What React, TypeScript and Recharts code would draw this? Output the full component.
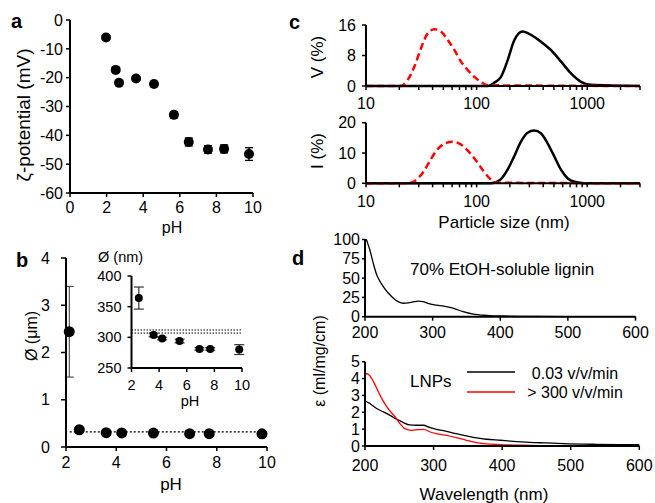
import React from 'react';
import {
  ScatterChart,
  Scatter,
  LineChart,
  Line,
  XAxis,
  YAxis,
  ErrorBar,
  ReferenceLine,
} from 'recharts';

const W = 655;
const H = 503;
const FONT = '"Liberation Sans", Arial, Helvetica, sans-serif';

// a: zeta potential vs pH
const zetaPH = [1.97, 2.5, 2.68, 3.61, 4.59, 5.68, 6.49, 7.54, 8.42, 9.78];
const zetaMV = [-6.1, -17.3, -21.8, -20.3, -22.2, -32.9, -42.3, -44.9, -44.7, -46.5];
const zetaErr = [0.6, 0.8, 0.8, 0.8, 0.9, 1.0, 1.4, 1.3, 1.4, 2.2];

// b: particle diameter (um) vs pH
const diaPH = [2.13, 2.53, 3.6, 4.22, 5.48, 6.92, 7.7, 9.8];
const diaUm = [2.44, 0.365, 0.304, 0.298, 0.294, 0.281, 0.281, 0.28];
const diaErr = [0.96, 0.01, 0.01, 0.01, 0.01, 0.01, 0.01, 0.01];
const diaRef = 0.32;

// b inset: diameter (nm)
const insetPH = [2.53, 3.6, 4.22, 5.48, 6.92, 7.7, 9.8];
const insetNm = [364, 304, 298, 294, 281, 281, 280];
const insetErr = [18, 3, 2, 3, 2, 2, 8];
const insetRefs = [312, 307];

// c: DLS size distributions
const volRedX = [10, 20.5, 23.8, 27.4, 31.4, 36.1, 41.5, 47.6, 54.8, 63, 72.3, 83, 95.3, 109, 126, 3000];
const volRedY = [0, 0, 1.6, 5.1, 9.9, 13.8, 14.9, 14.3, 12.1, 9.4, 6.4, 4.2, 2.4, 1.1, 0.2, 0];
const volBlackX = [10, 126, 145, 166, 191, 219, 261, 310, 382, 471, 580, 713, 879, 1081, 3000];
const volBlackY = [0, 0, 0.9, 2.4, 6.8, 12.0, 14.3, 13.4, 11.6, 9.4, 6.4, 3.3, 1.1, 0.3, 0];
const intRedX = [10, 24, 28.8, 33.1, 38.2, 43.8, 52.2, 60.1, 69.1, 82.2, 98, 116.7, 134, 154, 3000];
const intRedY = [0, 0, 1.3, 3.8, 7.7, 11, 13.2, 13.7, 13.2, 11, 7.7, 3.8, 1.3, 0.2, 0];
const intBlackX = [10, 134, 165, 190, 218, 251, 289, 332, 381, 438, 505, 581, 667, 767, 946, 3000];
const intBlackY = [0, 0, 1.3, 4.4, 8.8, 13.7, 16.7, 17.4, 16.5, 13.2, 8.8, 4.4, 1.6, 0.5, 0, 0];
const logTicks = [10, 20, 30, 40, 50, 60, 70, 80, 90, 100, 200, 300, 400, 500, 600, 700, 800, 900, 1000, 2000, 3000];
const logLabels = [10, 100, 1000];

// d: UV absorptivity
const ligninWl = [200, 201, 202.5, 204, 207, 212, 217, 222, 227, 234, 242, 249, 257, 266, 279, 286, 296, 306, 320, 330, 345, 360, 380, 400, 450, 500, 550, 600];
const ligninEps = [97, 100, 99, 95, 87, 70, 55, 46, 39, 31, 24, 19.6, 17.4, 18.3, 20.3, 19.5, 16.5, 15, 13, 11, 6.5, 3.4, 1.7, 0.9, 0.4, 0.2, 0.1, 0.05];
const slowWl = [200, 207, 217, 227, 236, 246, 256, 265, 275, 285, 295, 304, 319, 333, 348, 363, 377, 397, 416, 440, 465, 489, 537, 600];
const slowEps = [2.68, 2.52, 2.22, 2.02, 1.83, 1.59, 1.39, 1.25, 1.23, 1.23, 1.09, 0.99, 0.87, 0.73, 0.6, 0.48, 0.4, 0.34, 0.28, 0.22, 0.18, 0.14, 0.1, 0.08];
const fastWl = [200, 205, 210, 215, 222, 229, 236, 244, 251, 258, 268, 278, 286, 295, 304, 319, 333, 348, 363, 377, 397, 440, 489, 600];
const fastEps = [4.3, 4.25, 4.0, 3.6, 3.0, 2.5, 2.1, 1.73, 1.33, 1.03, 0.93, 0.97, 0.99, 0.83, 0.73, 0.63, 0.5, 0.34, 0.2, 0.12, 0.08, 0.04, 0.02, 0.02];
const wlTicks = [200, 300, 400, 500, 600];

const rows = (xs: number[], ys: number[], es?: number[]) =>
  xs.map((x, i) => ({ x, y: ys[i], err: es ? es[i] : 0 }));

// every chart covers the whole page; the margins put its plot box in place
const YW = 40;
const XH = 30;
const frame = (x0: number, y0: number, x1: number, y1: number) => ({
  left: x0 - YW,
  top: y0,
  right: W - x1,
  bottom: H - y1 - XH,
});

const layer: React.CSSProperties = { position: 'absolute', left: 0, top: 0 };
const axisLine = { stroke: '#000', strokeWidth: 2 };
const tickLine = { stroke: '#000', strokeWidth: 1.5 };
const tick = { fill: '#000', fontSize: 16, fontFamily: FONT };
const tickSmall = { fill: '#000', fontSize: 14.5, fontFamily: FONT };

const dot = (r: number) => (p: any) => <circle cx={p.cx} cy={p.cy} r={r} fill="#000" />;

function PanelA() {
  return (
    <div style={layer}>
      <ScatterChart width={W} height={H} margin={frame(70, 20, 253, 193)}>
        <XAxis type="number" dataKey="x" domain={[0, 10]} ticks={[0, 2, 4, 6, 8, 10]} interval={0}
          axisLine={axisLine} tickLine={tickLine} tick={tick} tickSize={4} tickMargin={5} height={XH} />
        <YAxis type="number" dataKey="y" domain={[-60, 0]} ticks={[-60, -50, -40, -30, -20, -10, 0]} interval={0}
          axisLine={axisLine} tickLine={tickLine} tick={tick} tickSize={4} tickMargin={3} width={YW} />
        <Scatter data={rows(zetaPH, zetaMV, zetaErr)} shape={dot(5)} isAnimationActive={false}>
          <ErrorBar dataKey="err" direction="y" width={4} stroke="#000" strokeWidth={1.3} />
        </Scatter>
      </ScatterChart>
    </div>
  );
}

function PanelB() {
  return (
    <div style={layer}>
      <ScatterChart width={W} height={H} margin={frame(66, 258, 267, 447)}>
        <XAxis type="number" dataKey="x" domain={[2, 10]} ticks={[2, 4, 6, 8, 10]} interval={0}
          axisLine={axisLine} tickLine={tickLine} tick={tick} tickSize={4} tickMargin={6} height={XH} />
        <YAxis type="number" dataKey="y" domain={[0, 4]} ticks={[0, 1, 2, 3, 4]} interval={0}
          axisLine={axisLine} tickLine={tickLine} tick={tick} tickSize={5} tickMargin={11} width={YW} />
        <ReferenceLine segment={[{ x: 2.15, y: diaRef }, { x: 9.8, y: diaRef }]}
          stroke="#000" strokeWidth={1.3} strokeDasharray="2 2" />
        <Scatter data={rows(diaPH, diaUm, diaErr)} shape={dot(5.5)} isAnimationActive={false}>
          <ErrorBar dataKey="err" direction="y" width={4.5} stroke="#333" strokeWidth={1} />
        </Scatter>
      </ScatterChart>
    </div>
  );
}

function PanelBInset() {
  return (
    <div style={layer}>
      <ScatterChart width={W} height={H} margin={frame(131.5, 276, 242, 368)}>
        <XAxis type="number" dataKey="x" domain={[2, 10]} ticks={[2, 4, 6, 8, 10]} interval={0}
          axisLine={axisLine} tickLine={tickLine} tick={tickSmall} tickSize={4} tickMargin={8} height={XH} />
        <YAxis type="number" dataKey="y" domain={[250, 400]} ticks={[250, 300, 350, 400]} interval={0}
          axisLine={axisLine} tickLine={tickLine} tick={tickSmall} tickSize={4} tickMargin={6} width={YW} />
        {insetRefs.map((v) => (
          <ReferenceLine key={v} y={v} stroke="#000" strokeWidth={1} strokeDasharray="1.5 1.5" />
        ))}
        <Scatter data={rows(insetPH, insetNm, insetErr)} shape={dot(4)} isAnimationActive={false}>
          <ErrorBar dataKey="err" direction="y" width={5} stroke="#333" strokeWidth={1.2} />
        </Scatter>
      </ScatterChart>
    </div>
  );
}

function SizePanel(props: {
  box: [number, number, number, number];
  yMax: number;
  yTicks: number[];
  redX: number[];
  redY: number[];
  blackX: number[];
  blackY: number[];
}) {
  const { box, yMax, yTicks } = props;
  return (
    <div style={layer}>
      <LineChart width={W} height={H} margin={frame(...box)}>
        <XAxis type="number" dataKey="x" scale="log" domain={[10, 3000]} ticks={logTicks} interval={0}
          tickFormatter={(v: number) => (logLabels.includes(v) ? String(v) : '')}
          axisLine={axisLine} tickLine={tickLine} tick={tick} tickSize={4} tickMargin={8} height={XH} allowDataOverflow />
        <YAxis type="number" dataKey="y" domain={[0, yMax]} ticks={yTicks} interval={0}
          axisLine={axisLine} tickLine={tickLine} tick={tick} tickSize={4} tickMargin={6} width={YW} />
        <Line data={rows(props.blackX, props.blackY)} dataKey="y" type="monotone" stroke="#000"
          strokeWidth={2.5} dot={false} isAnimationActive={false} />
        <Line data={rows(props.redX, props.redY)} dataKey="y" type="monotone" stroke="#ff0000"
          strokeWidth={2.5} strokeDasharray="7 4" dot={false} isAnimationActive={false} />
      </LineChart>
    </div>
  );
}

function PanelDTop() {
  return (
    <div style={layer}>
      <LineChart width={W} height={H} margin={frame(365, 239.5, 635.5, 316.7)}>
        <XAxis type="number" dataKey="x" domain={[200, 600]} ticks={wlTicks} interval={0}
          axisLine={axisLine} tickLine={tickLine} tick={tick} tickSize={4} tickMargin={6} height={XH} />
        <YAxis type="number" dataKey="y" domain={[0, 100]} ticks={[0, 25, 50, 75, 100]} interval={0}
          axisLine={axisLine} tickLine={tickLine} tick={tick} tickSize={3} tickMargin={2} width={YW} />
        <Line data={rows(ligninWl, ligninEps)} dataKey="y" type="monotone" stroke="#000"
          strokeWidth={1.3} dot={false} isAnimationActive={false} />
      </LineChart>
    </div>
  );
}

function PanelDBottom() {
  return (
    <div style={layer}>
      <LineChart width={W} height={H} margin={frame(365, 361.7, 639.3, 446)}>
        <XAxis type="number" dataKey="x" domain={[200, 600]} ticks={wlTicks} interval={0}
          axisLine={axisLine} tickLine={tickLine} tick={tick} tickSize={4} tickMargin={10} height={XH} />
        <YAxis type="number" dataKey="y" domain={[0, 5]} ticks={[0, 1, 2, 3, 4, 5]} interval={0}
          axisLine={axisLine} tickLine={tickLine} tick={tick} tickSize={3} tickMargin={2} width={YW} />
        <Line data={rows(slowWl, slowEps)} dataKey="y" type="monotone" stroke="#000"
          strokeWidth={1.3} dot={false} isAnimationActive={false} />
        <Line data={rows(fastWl, fastEps)} dataKey="y" type="monotone" stroke="#ff0000"
          strokeWidth={1.3} dot={false} isAnimationActive={false} />
      </LineChart>
    </div>
  );
}

function Labels() {
  const vlabel = (x: number, y: number, text: string, size: number) => (
    <text transform={`translate(${x},${y}) rotate(-90)`} textAnchor="middle" fontSize={size}>{text}</text>
  );
  return (
    <svg width={W} height={H} style={{ ...layer, pointerEvents: 'none' }} fontFamily={FONT} fill="#000">
      <g fontWeight="bold" fontSize={20}>
        <text x={11} y={28}>a</text>
        <text x={16} y={267}>b</text>
        <text x={289} y={29}>c</text>
        <text x={292} y={265}>d</text>
      </g>
      {vlabel(30, 115, 'ζ-potential (mV)', 19)}
      {vlabel(37, 336, 'Ø (μm)', 16)}
      {vlabel(323, 57, 'V (%)', 17)}
      {vlabel(323, 151, 'I (%)', 17)}
      {vlabel(325, 361, 'ε (ml/mg/cm)', 16)}
      <g fontSize={17} textAnchor="middle">
        <text x={172} y={233} fontSize={16}>pH</text>
        <text x={171} y={490}>pH</text>
        <text x={504} y={228}>Particle size (nm)</text>
        <text x={484} y={500}>Wavelength (nm)</text>
      </g>
      <g fontSize={16} textAnchor="middle">
        <text x={575} y={379}>0.03 v/v/min</text>
        <text x={575} y={398}>&gt; 300 v/v/min</text>
      </g>
      <g fontSize={14.5}>
        <text x={190} y={406} textAnchor="middle">pH</text>
        <text x={98} y={262}>Ø (nm)</text>
      </g>
      <g fontSize={17}>
        <text x={410} y={275}>70% EtOH-soluble lignin</text>
        <text x={410} y={387}>LNPs</text>
      </g>
      <line x1={467} y1={372} x2={515} y2={372} stroke="#000" strokeWidth={1.3} />
      <line x1={467} y1={392} x2={515} y2={392} stroke="#ff0000" strokeWidth={1.3} />
    </svg>
  );
}

export default function App() {
  return (
    <div style={{ position: 'absolute', left: 0, top: 0, width: W, height: H, background: '#fff', fontFamily: FONT }}>
      <PanelA />
      <PanelB />
      <PanelBInset />
      <SizePanel box={[366, 25, 640, 86]} yMax={16} yTicks={[0, 8, 16]}
        redX={volRedX} redY={volRedY} blackX={volBlackX} blackY={volBlackY} />
      <SizePanel box={[366, 122.7, 640, 183.3]} yMax={20} yTicks={[0, 10, 20]}
        redX={intRedX} redY={intRedY} blackX={intBlackX} blackY={intBlackY} />
      <PanelDTop />
      <PanelDBottom />
      <Labels />
    </div>
  );
}
